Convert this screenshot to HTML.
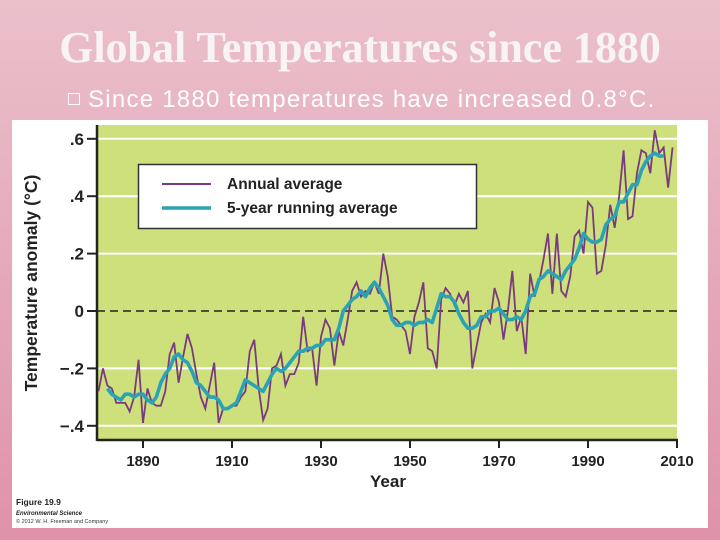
<!DOCTYPE html>
<html><head><meta charset="utf-8"><style>
body{margin:0;width:720px;height:540px;overflow:hidden;background:linear-gradient(#ebc0cb,#df92aa);font-family:"Liberation Sans",sans-serif;position:relative}
#title{position:absolute;left:0;width:720px;top:22px;text-align:center;font-family:"Liberation Serif",serif;font-size:44px;font-weight:bold;color:#fafafa;opacity:.9}
#sub{position:absolute;left:88px;top:86px;font-size:24px;letter-spacing:1.25px;color:#fff}
#bul{position:absolute;left:68px;top:93px;width:10px;height:10px;border:1.5px solid #fff}
</style></head><body>
<div id="title">Global Temperatures since 1880</div>
<div id="bul"></div>
<div id="sub">Since 1880 temperatures have increased 0.8°C.</div>
<svg id="c" width="720" height="540" style="position:absolute;left:0;top:0"></svg>
<script>
const annualYears0=1880;
const annual=[-0.28,-0.2,-0.26,-0.27,-0.32,-0.32,-0.32,-0.35,-0.3,-0.17,-0.39,-0.27,-0.32,-0.33,-0.33,-0.28,-0.15,-0.11,-0.25,-0.16,-0.08,-0.13,-0.22,-0.3,-0.34,-0.26,-0.18,-0.39,-0.34,-0.34,-0.33,-0.33,-0.3,-0.28,-0.14,-0.1,-0.27,-0.38,-0.34,-0.2,-0.19,-0.15,-0.26,-0.22,-0.22,-0.18,-0.02,-0.14,-0.13,-0.26,-0.09,-0.03,-0.06,-0.19,-0.07,-0.12,-0.03,0.07,0.1,0.05,0.07,0.06,0.1,0.06,0.2,0.12,-0.02,-0.03,-0.05,-0.07,-0.15,-0.02,0.03,0.1,-0.13,-0.14,-0.2,0.04,0.08,0.06,0.02,0.06,0.03,0.07,-0.2,-0.12,-0.04,-0.01,-0.04,0.08,0.03,-0.1,0.0,0.14,-0.07,-0.02,-0.15,0.13,0.05,0.1,0.18,0.27,0.06,0.27,0.07,0.05,0.12,0.26,0.28,0.2,0.38,0.36,0.13,0.14,0.23,0.37,0.29,0.4,0.56,0.32,0.33,0.48,0.56,0.55,0.48,0.63,0.55,0.57,0.43,0.57];
const runningYears0=1882;
const running=[-0.27,-0.29,-0.3,-0.31,-0.29,-0.29,-0.3,-0.29,-0.29,-0.31,-0.32,-0.3,-0.25,-0.22,-0.2,-0.16,-0.15,-0.17,-0.18,-0.21,-0.25,-0.26,-0.28,-0.3,-0.3,-0.31,-0.34,-0.34,-0.33,-0.32,-0.28,-0.24,-0.25,-0.26,-0.27,-0.28,-0.25,-0.22,-0.2,-0.21,-0.2,-0.18,-0.16,-0.14,-0.14,-0.13,-0.13,-0.12,-0.12,-0.1,-0.1,-0.1,-0.06,0.0,0.02,0.04,0.05,0.07,0.05,0.08,0.1,0.08,0.05,0.02,-0.03,-0.05,-0.05,-0.04,-0.04,-0.05,-0.04,-0.04,-0.03,-0.04,0.01,0.06,0.05,0.05,0.03,-0.01,-0.04,-0.06,-0.06,-0.05,-0.02,-0.02,0.0,0.0,0.01,-0.01,-0.03,-0.03,-0.02,-0.03,0.0,0.05,0.06,0.11,0.12,0.14,0.13,0.12,0.11,0.14,0.16,0.18,0.22,0.27,0.25,0.24,0.24,0.25,0.3,0.32,0.33,0.38,0.38,0.41,0.44,0.44,0.49,0.52,0.54,0.55,0.54,0.54];
const yTicks=[0.6,0.4,0.2,0,-0.2,-0.4];
const yTickLabels=[".6",".4",".2","0","\u2212.2","\u2212.4"];
const xTicks=[1890,1910,1930,1950,1970,1990,2010];

const X=y=>98.5+(y-1880)*4.45;
const Y=v=>311-v*287;
const svg=document.getElementById('c');
const NS='http://www.w3.org/2000/svg';
function mk(t,a,p){const e=document.createElementNS(NS,t);for(const k in a)e.setAttribute(k,a[k]);(p||svg).appendChild(e);return e;}

let e=mk('rect',{x:12,y:120,width:696,height:408,fill:'#fff'});


e=mk('rect',{x:97,y:125,width:580,height:315,fill:'#cde07c'});


yTicks.forEach((v,i)=>{
  if(v!==0){e=mk('line',{x1:97,x2:677,y1:Y(v),y2:Y(v),stroke:'#fff','stroke-width':2});
  
  }
  mk('line',{x1:87,x2:97,y1:Y(v),y2:Y(v),stroke:'#222','stroke-width':2});
  e=mk('text',{x:84,y:Y(v)+6,'text-anchor':'end','font-size':17,'font-weight':'bold',fill:'#222'});
  e.textContent=yTickLabels[i];
  
  
});
e=mk('line',{x1:97,x2:677,y1:Y(0),y2:Y(0),stroke:'#222','stroke-width':1.6,'stroke-dasharray':'8,5'});


mk('line',{x1:97,x2:97,y1:125,y2:441,stroke:'#222','stroke-width':2.5});
mk('line',{x1:97,x2:678,y1:440,y2:440,stroke:'#222','stroke-width':2.5});
xTicks.forEach(t=>{
  mk('line',{x1:X(t),x2:X(t),y1:440,y2:448,stroke:'#222','stroke-width':2});
  e=mk('text',{x:X(t),y:466,'text-anchor':'middle','font-size':15,'font-weight':'bold',fill:'#222'});
  e.textContent=t;
  
  
});
e=mk('text',{x:388,y:487,'text-anchor':'middle','font-size':17,'font-weight':'bold',fill:'#222'});
e.textContent='Year';


e=mk('text',{x:0,y:0,transform:'translate(37,283) rotate(-90)','text-anchor':'middle','font-size':17.5,'font-weight':'bold',fill:'#222'});
e.textContent='Temperature anomaly (°C)';


e=mk('polyline',{points:annual.map((v,i)=>X(annualYears0+i)+','+Y(v)).join(' '),fill:'none',stroke:'#7a3a7e','stroke-width':1.8});


e=mk('polyline',{points:running.map((v,i)=>X(runningYears0+i)+','+Y(v)).join(' '),fill:'none',stroke:'#2aa3b5','stroke-width':3.6,'stroke-linejoin':'round'});


const lg=mk('g',{});


mk('rect',{x:138.5,y:164.5,width:338,height:64,fill:'#fff',stroke:'#333','stroke-width':1.5},lg);
mk('line',{x1:162,x2:211,y1:184,y2:184,stroke:'#7a3a7e','stroke-width':2},lg);
mk('line',{x1:162,x2:211,y1:208,y2:208,stroke:'#2aa3b5','stroke-width':3.5},lg);
e=mk('text',{x:227,y:189,'font-size':15.5,'font-weight':'bold',fill:'#222'},lg);e.textContent='Annual average';


e=mk('text',{x:227,y:213,'font-size':15.5,'font-weight':'bold',fill:'#222'},lg);e.textContent='5-year running average';


e=mk('text',{x:16,y:505,'font-size':8.5,'font-weight':'bold',fill:'#222'});e.textContent='Figure 19.9';


e=mk('text',{x:16,y:515,'font-size':6,'font-weight':'bold','font-style':'italic',fill:'#222'});e.textContent='Environmental Science';


e=mk('text',{x:16,y:523,'font-size':5.5,fill:'#333'});e.textContent='© 2012 W. H. Freeman and Company';


</script>
</body></html>
